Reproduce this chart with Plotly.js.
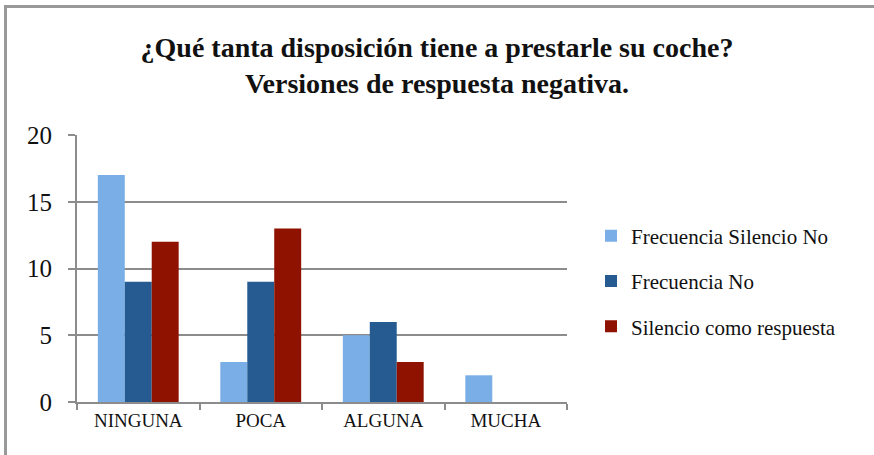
<!DOCTYPE html>
<html>
<head>
<meta charset="utf-8">
<script src="https://cdn.plot.ly/plotly-3.0.1.min.js"></script>
<style>
  body { margin: 0; background: #fff; }
  #chart { width: 874px; height: 455px; }
  #frame {
    position: absolute; left: 4px; top: 5px; right: 0; bottom: 0;
    border-left: 3px solid #999; border-top: 3px solid #999;
    pointer-events: none;
  }
</style>
</head>
<body>
<div id="chart"></div>
<div id="frame"></div>
<script>
// categories and series
const categories = ['NINGUNA', 'POCA', 'ALGUNA', 'MUCHA'];
const silencioNo = [17, 3, 5, 2];
const frecuenciaNo = [9, 9, 6, 0];
const silencioRespuesta = [12, 13, 3, 0];

const serif = 'Liberation Serif, Times New Roman, serif';

function barTrace(name, values, color) {
    return {
        type: 'bar',
        name: name,
        x: categories,
        y: values,
        legendgroup: name,
        marker: { color: color, line: { width: 0 } },
        hoverinfo: 'skip'
    };
}

const data = [
    barTrace('Frecuencia Silencio No', silencioNo, '#7aaee6'),
    barTrace('Frecuencia No', frecuenciaNo, '#265b92'),
    barTrace('Silencio como respuesta', silencioRespuesta, '#8f1200')
];

const layout = {
    width: 874,
    height: 455,
    margin: { l: 77, r: 307, t: 135, b: 53 },
    paper_bgcolor: '#fff',
    plot_bgcolor: '#fff',
    barmode: 'group',
    bargap: 0.34,
    bargroupgap: 0,
    title: {
        text: '<b>¿Qué tanta disposición tiene a prestarle su coche?<br>Versiones de respuesta negativa.</b>',
        font: { family: serif, size: 28, color: '#111' },
        x: 0.5,
        xanchor: 'center',
        y: 0.875,
        yanchor: 'top'
    },
    xaxis: {
        tickson: 'boundaries',
        ticks: 'outside',
        ticklen: 6,
        tickwidth: 2,
        tickcolor: '#8c8c8c',
        showline: true,
        linecolor: '#8c8c8c',
        linewidth: 2,
        tickfont: { family: serif, size: 19, color: '#111' },
        showgrid: false
    },
    yaxis: {
        range: [0, 20],
        dtick: 5,
        ticks: 'outside',
        ticklen: 7,
        tickwidth: 2,
        tickcolor: '#8c8c8c',
        showline: true,
        linecolor: '#8c8c8c',
        linewidth: 2,
        gridcolor: '#8c8c8c',
        gridwidth: 2,
        zeroline: false,
        tickfont: { family: serif, size: 25, color: '#111' },
        ticklabelstandoff: 11
    },
    showlegend: true,
    legend: {
        x: 1.049,
        xanchor: 'left',
        y: 0.453,
        yanchor: 'middle',
        font: { family: serif, size: 21, color: '#111' },
        tracegroupgap: 15,
        itemwidth: 30
    }
};

Plotly.newPlot('chart', data, layout, { displayModeBar: false, staticPlot: true });
</script>
</body>
</html>
